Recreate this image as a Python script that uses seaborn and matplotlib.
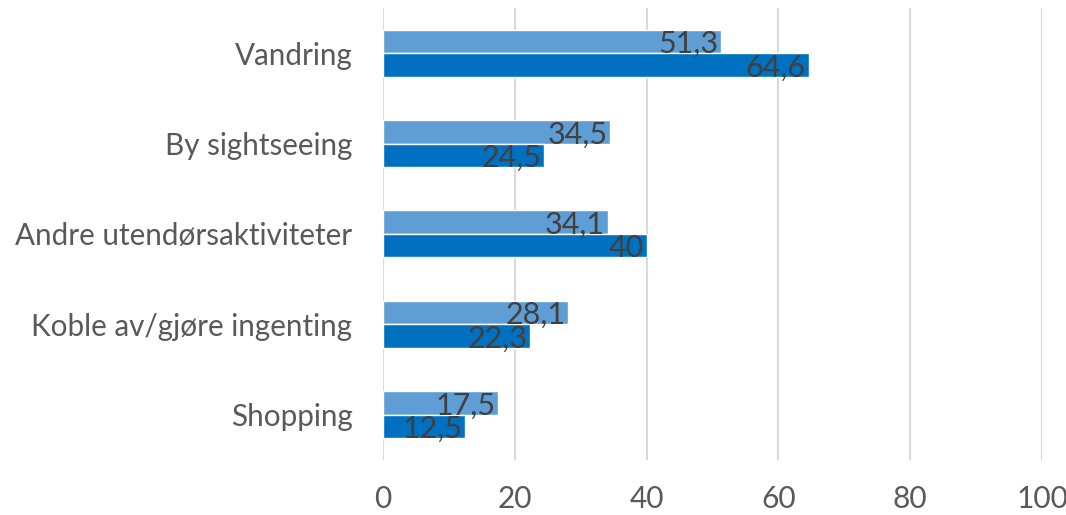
import pandas as pd
import matplotlib
matplotlib.use("Agg")
import matplotlib.pyplot as plt
import seaborn as sns

# Data
categories = ["Vandring", "By sightseeing", "Andre utendørsaktiviteter",
              "Koble av/gjøre ingenting", "Shopping"]
serie_1 = [51.3, 34.5, 34.1, 28.1, 17.5]   # light blue (top bar)
serie_2 = [64.6, 24.5, 40.0, 22.3, 12.5]   # dark blue (bottom bar)
x_ticks = [0, 20, 40, 60, 80, 100]

df = pd.DataFrame({
    "Aktivitet": categories * 2,
    "Andel": serie_1 + serie_2,
    "Serie": ["Serie 1"] * len(categories) + ["Serie 2"] * len(categories),
})

sns.set_theme(style="white")
plt.rcParams["font.family"] = ["Lato", "DejaVu Sans"]

fig = plt.figure(figsize=(10.66, 5.15), dpi=100)
ax = fig.add_axes([0.3593, 0.1068, 0.6182, 0.8777])

sns.barplot(data=df, y="Aktivitet", x="Andel", hue="Serie", orient="h",
            palette=["#5F9ED4", "#0070C0"], width=0.52, gap=0,
            saturation=1, legend=False, ax=ax, zorder=3)

# value labels, right-aligned at the bar end (Excel "inside end" look)
for cont in ax.containers:
    for bar, v in zip(cont.patches, cont.datavalues):
        yc = bar.get_y() + bar.get_height() / 2
        ax.annotate(f"{v:g}".replace(".", ","), (v, yc),
                    xytext=(-2, 0), textcoords="offset points",
                    ha="right", va="center_baseline", fontsize=22,
                    color="#404040", zorder=4)

ax.set_xlim(0, 100)
ax.set_xticks(x_ticks)
ax.set_ylim(4.5, -0.5)
ax.grid(axis="x", color="#D9D9D9", linewidth=1.5, zorder=0)
ax.set_axisbelow(True)
for s in ax.spines.values():
    s.set_visible(False)
ax.tick_params(axis="x", length=0, pad=18, labelsize=21.5, labelcolor="#595959")
ax.tick_params(axis="y", length=0, pad=22, labelsize=21.3, labelcolor="#595959")
ax.set_xlabel("")
ax.set_ylabel("")

fig.savefig("out.png", dpi=100)
